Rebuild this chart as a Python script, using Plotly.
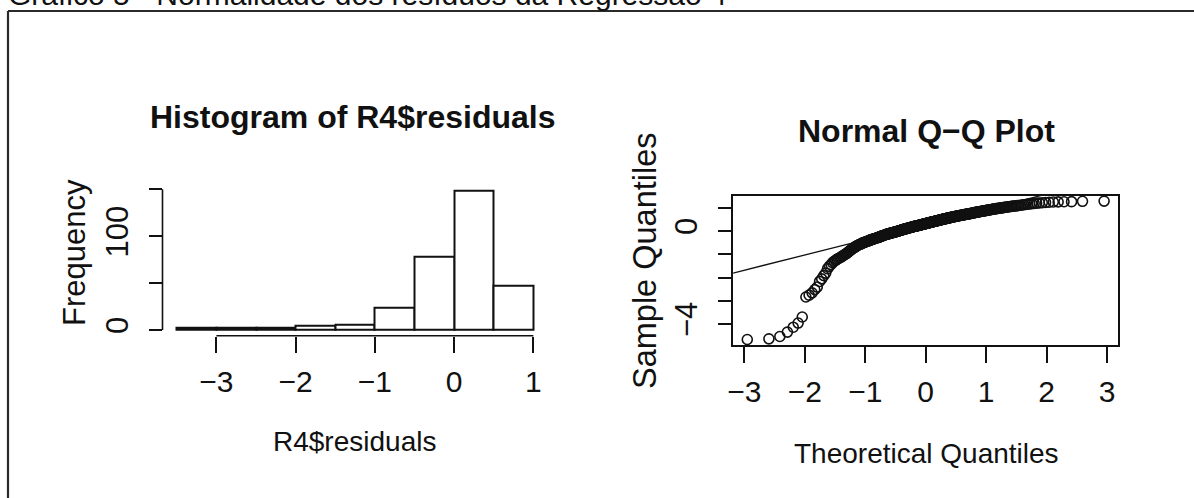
import plotly.graph_objects as go
from statistics import NormalDist
import numpy as np

# ---------------- data ----------------
hist_breaks = [-3.5, -3.0, -2.5, -2.0, -1.5, -1.0, -0.5, 0.0, 0.5, 1.0]
hist_counts = [2, 3, 2, 5, 6, 24, 78, 149, 47]
hist_xticks = [-3, -2, -1, 0, 1]
hist_xticktext = ["\u22123", "\u22122", "\u22121", "0", "1"]
hist_yticks = [0, 50, 100, 150]
hist_yticktext = ["0", "", "100", ""]

# sorted residuals (sample quantiles)
sample_quantiles = [
    -4.67, -4.64, -4.54, -4.35, -4.14, -3.96, -3.70, -2.84, -2.76, -2.66,
    -2.52, -2.41, -2.17, -2.06, -1.92, -1.81, -1.62, -1.52, -1.44, -1.36,
    -1.30, -1.26, -1.22, -1.18, -1.15, -1.12, -1.08, -1.05, -1.01, -0.98,
    -0.95, -0.91, -0.87, -0.83, -0.80, -0.76, -0.74, -0.71, -0.68, -0.66,
    -0.63, -0.61, -0.59, -0.57, -0.56, -0.54, -0.52, -0.51, -0.49, -0.48,
    -0.47, -0.46, -0.44, -0.43, -0.42, -0.40, -0.39, -0.38, -0.37, -0.36,
    -0.35, -0.34, -0.33, -0.32, -0.31, -0.30, -0.29, -0.28, -0.27, -0.26,
    -0.25, -0.24, -0.23, -0.22, -0.21, -0.20, -0.19, -0.18, -0.17, -0.16,
    -0.15, -0.14, -0.133, -0.127, -0.12, -0.113, -0.107, -0.10, -0.093, -0.087,
    -0.08, -0.073, -0.067, -0.06, -0.053, -0.047, -0.04, -0.035, -0.028, -0.021,
    -0.014, -0.007, 0.0, 0.007, 0.014, 0.021, 0.028, 0.035, 0.042, 0.049,
    0.056, 0.063, 0.07, 0.076, 0.082, 0.088, 0.094, 0.10, 0.106, 0.112,
    0.118, 0.124, 0.13, 0.136, 0.142, 0.148, 0.154, 0.16, 0.166, 0.172,
    0.178, 0.184, 0.19, 0.195, 0.20, 0.205, 0.21, 0.215, 0.22, 0.225,
    0.23, 0.235, 0.24, 0.245, 0.25, 0.255, 0.26, 0.265, 0.27, 0.276,
    0.281, 0.286, 0.292, 0.297, 0.302, 0.307, 0.313, 0.318, 0.323, 0.329,
    0.334, 0.339, 0.345, 0.35, 0.355, 0.36, 0.366, 0.371, 0.376, 0.382,
    0.387, 0.392, 0.397, 0.403, 0.408, 0.413, 0.419, 0.424, 0.429, 0.435,
    0.44, 0.445, 0.45, 0.455, 0.461, 0.466, 0.471, 0.476, 0.481, 0.486,
    0.492, 0.497, 0.502, 0.507, 0.512, 0.517, 0.523, 0.528, 0.533, 0.538,
    0.543, 0.548, 0.554, 0.559, 0.564, 0.569, 0.574, 0.579, 0.585, 0.59,
    0.595, 0.60, 0.605, 0.61, 0.615, 0.62, 0.624, 0.629, 0.634, 0.639,
    0.644, 0.648, 0.653, 0.658, 0.663, 0.668, 0.672, 0.677, 0.682, 0.687,
    0.692, 0.696, 0.701, 0.706, 0.711, 0.716, 0.72, 0.725, 0.73, 0.735,
    0.74, 0.745, 0.75, 0.756, 0.762, 0.768, 0.773, 0.779, 0.785, 0.791,
    0.797, 0.802, 0.808, 0.814, 0.82, 0.826, 0.831, 0.837, 0.843, 0.849,
    0.855, 0.86, 0.866, 0.872, 0.878, 0.884, 0.89, 0.897, 0.903, 0.91,
    0.917, 0.923, 0.93, 0.937, 0.943, 0.95, 0.957, 0.963, 0.97, 0.977,
    0.983, 0.99, 0.997, 1.003, 1.01, 1.018, 1.025, 1.033, 1.04, 1.048,
    1.056, 1.064, 1.071, 1.079, 1.087, 1.095, 1.102, 1.11, 1.121, 1.133,
    1.144, 1.155, 1.166, 1.178, 1.189, 1.20, 1.21, 1.22, 1.23, 1.24,
    1.25, 1.255, 1.26, 1.265, 1.28, 1.29,
]
qq_xticks = [-3, -2, -1, 0, 1, 2, 3]
qq_xticktext = ["\u22123", "\u22122", "\u22121", "0", "1", "2", "3"]
qq_yticks = [-4, -3, -2, -1, 0, 1]
qq_yticktext = ["\u22124", "", "", "", "0", ""]

caption = "Gráfico 5 - Normalidade dos resíduos da Regressão 4"

# ---------------- derived (standard procedures) ----------------
hist_centers = [(a + b) / 2 for a, b in zip(hist_breaks[:-1], hist_breaks[1:])]
hist_width = hist_breaks[1] - hist_breaks[0]

n = len(sample_quantiles)
a = 3 / 8 if n <= 10 else 0.5
nd = NormalDist()
theoretical = [nd.inv_cdf((i - a) / (n + 1 - 2 * a)) for i in range(1, n + 1)]
q1, q3 = np.quantile(sample_quantiles, [0.25, 0.75])
t1, t3 = nd.inv_cdf(0.25), nd.inv_cdf(0.75)
slope = (q3 - q1) / (t3 - t1)
intercept = q1 - slope * t1

# ---------------- layout geometry ----------------
W, H = 1194, 498
def fx(px):
    return px / W
def fy(py):
    return 1 - py / H

REG = "Liberation Sans, Arial, Helvetica, sans-serif"
INK = "#111111"

qq_xrange = [-3.186, 3.186]
qq_yrange = [-4.91, 1.53]

fig = go.Figure()
fig.add_trace(go.Bar(
    x=hist_centers, y=hist_counts, width=hist_width,
    marker=dict(color="white", line=dict(color=INK, width=2)),
    xaxis="x", yaxis="y", showlegend=False,
))
fig.add_trace(go.Scatter(
    x=theoretical, y=sample_quantiles, mode="markers",
    marker=dict(symbol="circle-open", size=10, color=INK, line=dict(width=1.6, color=INK)),
    xaxis="x2", yaxis="y2", showlegend=False,
))
fig.add_trace(go.Scatter(
    x=qq_xrange, y=[intercept + slope * v for v in qq_xrange], mode="lines",
    line=dict(color=INK, width=1.3),
    xaxis="x2", yaxis="y2", showlegend=False,
))

h_dom_x = [fx(162.5), fx(547.6)]
h_dom_y = [fy(335.7), fy(183.7)]
q_dom_x = [fx(733.1), fx(1118.3)]
q_dom_y = [fy(345.1), fy(195.5)]

common = dict(ticks="outside", tickcolor=INK, tickwidth=1.6, showgrid=False,
              zeroline=False, automargin=False, fixedrange=True)
xtickfont = dict(family=REG, size=30, color=INK)
ytickfont = dict(family=REG, size=31, color=INK)

fig.update_layout(
    width=W, height=H, margin=dict(l=0, r=0, t=0, b=0, pad=0, autoexpand=False),
    paper_bgcolor="white", plot_bgcolor="white", showlegend=False,
    bargap=0,
    xaxis=dict(domain=h_dom_x, range=[-3.68, 1.18], anchor="y", showline=False,
               tickvals=hist_xticks, ticktext=hist_xticktext, ticklen=16,
               ticklabelstandoff=3, tickfont=xtickfont, **common),
    yaxis=dict(domain=h_dom_y, range=[-6, 156], anchor="x", showline=False,
               tickvals=hist_yticks, ticktext=hist_yticktext, ticklen=12.5, tickangle=-90,
               ticklabelstandoff=9, tickfont=ytickfont, **common),
    xaxis2=dict(domain=q_dom_x, range=qq_xrange, anchor="y2", showline=True, mirror=True,
                linecolor=INK, linewidth=1.6,
                tickvals=qq_xticks, ticktext=qq_xticktext, ticklen=16,
                ticklabelstandoff=3, tickfont=xtickfont, **common),
    yaxis2=dict(domain=q_dom_y, range=qq_yrange, anchor="x2", showline=True, mirror=True,
                linecolor=INK, linewidth=1.6,
                tickvals=qq_yticks, ticktext=qq_yticktext, ticklen=13, tickangle=-90,
                ticklabelstandoff=9, tickfont=ytickfont, **common),
)

shapes = [
    # outer frame (top and left edges)
    dict(type="line", xref="paper", yref="paper", x0=fx(8), x1=fx(1194), y0=fy(11), y1=fy(11),
         line=dict(color="#2a2a2a", width=2.2)),
    dict(type="line", xref="paper", yref="paper", x0=fx(8), x1=fx(8), y0=fy(11), y1=fy(498),
         line=dict(color="#2a2a2a", width=2.2)),
    # histogram axis lines spanning only the tick range (R style)
    dict(type="line", xref="x", yref="paper", x0=hist_xticks[0], x1=hist_xticks[-1],
         y0=h_dom_y[0], y1=h_dom_y[0], line=dict(color=INK, width=1.6)),
    dict(type="line", xref="paper", yref="y", x0=h_dom_x[0], x1=h_dom_x[0],
         y0=hist_yticks[0], y1=hist_yticks[-1], line=dict(color=INK, width=1.6)),
]
fig.update_layout(shapes=shapes)

ann = []
def text(s, px, py, size, bold=False, angle=0, xanchor="center", yanchor="middle"):
    ann.append(dict(text=("<b>%s</b>" % s) if bold else s, x=fx(px), y=fy(py),
                    xref="paper", yref="paper", showarrow=False, textangle=angle,
                    xanchor=xanchor, yanchor=yanchor,
                    font=dict(family=REG, size=size, color=INK)))

text(caption, 6, 13.4, 30, xanchor="left", yanchor="bottom")
text("Histogram of R4$residuals", 352, 117, 32, bold=True)
text("Normal Q\u2212Q Plot", 926.5, 131, 32, bold=True)
text("R4$residuals", 355, 441, 28)
text("Theoretical Quantiles", 926, 453, 28)
text("Frequency", 74, 253, 31, angle=-90)
text("Sample Quantiles", 645, 260, 32.5, angle=-90)
fig.update_layout(annotations=ann)

fig.write_html("out.html")
